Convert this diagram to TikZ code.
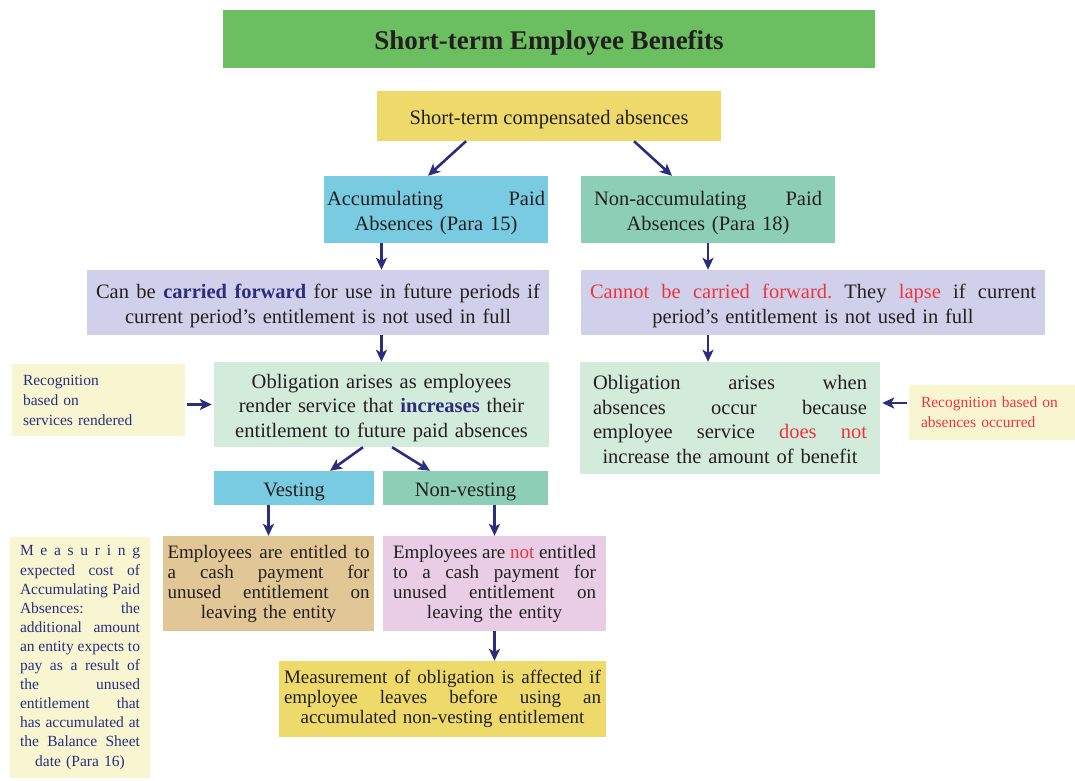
\documentclass[tikz,border=0pt]{standalone}
\usepackage{fontspec}
\setmainfont{Liberation Serif}
\usetikzlibrary{arrows.meta,positioning,calc}
\definecolor{titlegreen}{HTML}{6CBF60}
\definecolor{boxyellow} {HTML}{EEDA6A}
\definecolor{boxcyan}   {HTML}{79CBE1}
\definecolor{boxmint}   {HTML}{8DCFB6}
\definecolor{boxlav}    {HTML}{D1D0EA}
\definecolor{boxgreen}  {HTML}{D3EBDB}
\definecolor{paleyellow}{HTML}{F8F5D1}
\definecolor{boxtan}    {HTML}{E2C796}
\definecolor{boxpink}   {HTML}{E8CDE5}
\definecolor{arrownavy} {HTML}{2B2E7C}
\definecolor{redtxt}    {HTML}{EC3440}
\definecolor{bodytext}  {HTML}{231F20}
% one justified line, spread over the text width
\newcommand\jl[1]{\makebox[\linewidth][s]{\spaceskip=0.25em plus 1fil minus 0.1em\xspaceskip=\spaceskip #1}}
\newcommand\hl[1]{\textbf{\textcolor{arrownavy}{#1}}}
\newcommand\rd[1]{\textcolor{redtxt}{#1}}

\begin{document}
\begin{tikzpicture}[
  box/.style={inner sep=0pt,text=bodytext,align=center,font=\fontsize{20.5}{24.5}\selectfont,
              execute at begin node={\rule{0pt}{21.5pt}},execute at end node={\rule[-5pt]{0pt}{0pt}}},
  heading/.style={inner sep=0pt,text=bodytext,font=\fontsize{27}{30}\selectfont\bfseries,
              execute at begin node={\rule[-6pt]{0pt}{32pt}}},
  small/.style={inner sep=0pt,text=bodytext,align=center,font=\fontsize{19}{20}\selectfont},
  note/.style={fill=paleyellow,inner sep=0pt,font=\fontsize{15.5}{20}\selectfont},
  arr/.style={-{Stealth[length=12pt,width=11pt,inset=3pt]},line width=2.6pt,draw=arrownavy},
  x=1pt,y=-1pt
]
\useasboundingbox (0,0) rectangle (1075,780);
% Title
\node[heading,fill=titlegreen,minimum width=652,minimum height=58] (title) at (549,39) {Short-term Employee Benefits};
\node[box,fill=boxyellow,minimum width=344,minimum height=50] (sca) at (549,116) {Short-term compensated absences};
% Accumulating / non-accumulating
\node[box,fill=boxcyan,minimum width=224,minimum height=67,text width=218] (acc) at (436,209.5)
  {\jl{Accumulating Paid}\\Absences (Para 15)};
\node[box,fill=boxmint,minimum width=254,minimum height=67,text width=228] (nacc) at (708,209.5)
  {\jl{Non-accumulating Paid}\\Absences (Para 18)};
\node[box,fill=boxlav,minimum width=462,minimum height=65,text width=444] (cbf) at (318,302.5)
  {\jl{Can be \hl{carried forward} for use in future periods if}\\current period's entitlement is not used in full};
\node[box,fill=boxlav,minimum width=464,minimum height=65,text width=446] (ncf) at (813,302.5)
  {\jl{\rd{Cannot be carried forward.} They \rd{lapse} if current}\\period's entitlement is not used in full};
% Obligations
\node[box,fill=boxgreen,minimum width=335,minimum height=85,text width=335] (obl) at (381.5,404.5)
  {Obligation arises as employees\\render service that \hl{increases} their\\entitlement to future paid absences};
\node[box,fill=boxgreen,minimum width=300,minimum height=112,text width=274] (obr) at (730,418)
  {\jl{Obligation arises when}\\\jl{absences occur because}\\\jl{employee service \rd{does not}}\\increase the amount of benefit};
\node[note,text=arrownavy,minimum width=173,minimum height=72,text width=151,align=left] (recl) at (98.5,400)
  {Recognition\\based on\\services rendered};
\node[note,text=redtxt,minimum width=166,minimum height=55,text width=142,align=left] (recr) at (992,412.5)
  {Recognition based on\\absences occurred};
% Vesting / non-vesting
\node[box,fill=boxcyan,minimum width=160,minimum height=34] (vest) at (294,488) {Vesting};
\node[box,fill=boxmint,minimum width=165,minimum height=34] (nvest) at (465.5,488) {Non-vesting};
\node[small,fill=boxtan,minimum width=211,minimum height=95,text width=202] (ent) at (268.5,583.5)
  {\jl{Employees are entitled to}\\\jl{a cash payment for}\\\jl{unused entitlement on}\\leaving the entity};
\node[small,fill=boxpink,minimum width=223,minimum height=95,text width=203] (nent) at (494.5,583.5)
  {\jl{Employees are \rd{not} entitled}\\\jl{to a cash payment for}\\\jl{unused entitlement on}\\leaving the entity};
\node[small,fill=boxyellow,minimum width=327,minimum height=76,text width=317] (meas) at (442.5,699)
  {\jl{Measurement of obligation is affected if}\\\jl{employee leaves before using an}\\accumulated non-vesting entitlement};
\node[note,text=arrownavy,align=center,minimum width=140,minimum height=241,text width=120,
      font=\fontsize{15.5}{19.1}\selectfont] (mcost) at (80,657.5)
  {\jl{M e a s u r i n g}\\\jl{expected cost of}\\\jl{Accumulating Paid}\\\jl{Absences: the}\\
   \jl{additional amount}\\\jl{an entity expects to}\\\jl{pay as a result of}\\\jl{the unused}\\
   \jl{entitlement that}\\\jl{has accumulated at}\\\jl{the Balance Sheet}\\date (Para 16)};

\draw[arr] ([xshift=-83pt]sca.south) -- ([xshift=-8pt]acc.north);
\draw[arr] ([xshift=85pt]sca.south) -- ([xshift=-36pt]nacc.north);
\draw[arr] (acc.south -| obl.north) -- (cbf.north -| obl.north);
\draw[arr] (nacc.south) -- (nacc.south |- ncf.north);
\draw[arr] (cbf.south -| obl.north) -- (obl.north);
\draw[arr] (ncf.south -| nacc.south) -- (obr.north -| nacc.south);
\draw[arr,shorten <=2pt,shorten >=2pt] (recl.east |- obl.west) -- (obl.west);
\draw[arr,shorten <=2pt,shorten >=2pt] ([yshift=9.5pt]recr.west) -- ([yshift=9.5pt]recr.west -| obr.east);
\draw[arr] ([xshift=-18.5pt]obl.south) -- ([xshift=36pt]vest.north);
\draw[arr] ([xshift=10.5pt]obl.south) -- ([xshift=-35.5pt]nvest.north);
\draw[arr] (ent.north |- vest.south) -- (ent.north);
\draw[arr] (nent.north |- nvest.south) -- (nent.north);
\draw[arr] (nent.south) -- (nent.south |- meas.north);
\end{tikzpicture}
\end{document}
